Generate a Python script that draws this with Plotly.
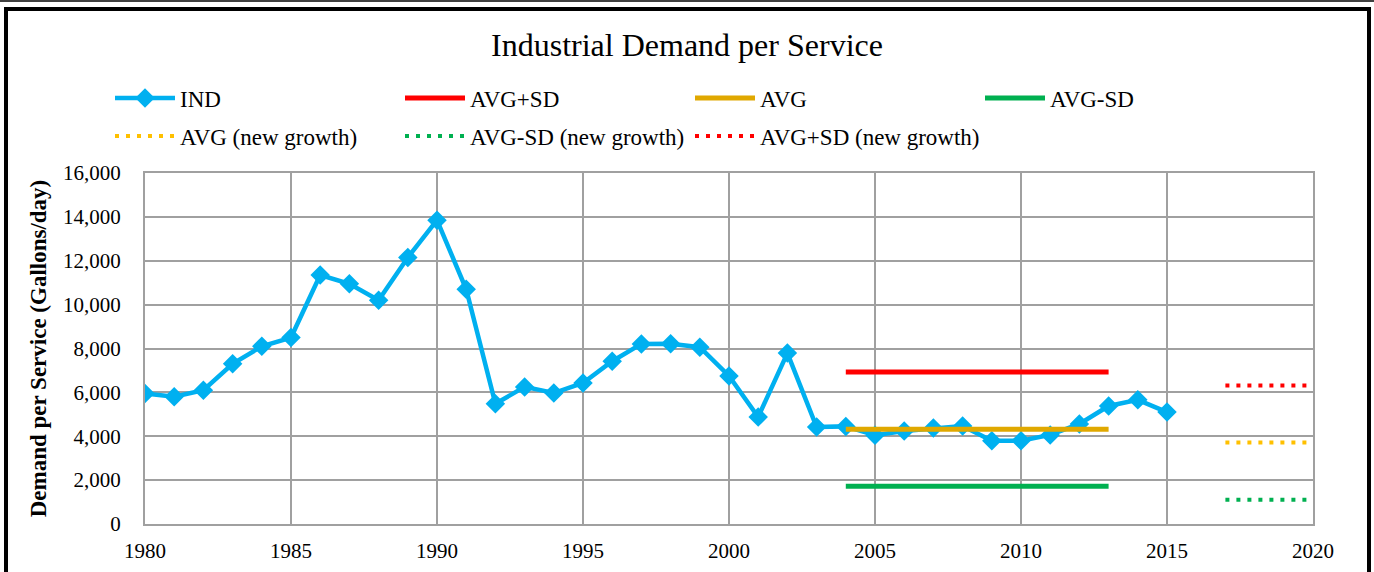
import plotly.graph_objects as go

# data
years = list(range(1980, 2016))
ind = [5950, 5800, 6100, 7300, 8100, 8500, 11350, 10950, 10200, 12150,
       13850, 10700, 5480, 6250, 5970, 6430, 7420, 8210, 8220, 8060,
       6750, 4880, 7790, 4420, 4450, 4050, 4240, 4380, 4470, 3790,
       3800, 4060, 4560, 5380, 5660, 5100]

avg_years = [2004, 2013]
avg = [4320, 4320]
avg_plus_sd = [6930, 6930]
avg_minus_sd = [1720, 1720]

new_years = [2017, 2020]
avg_new = [3710, 3710]
avg_minus_sd_new = [1100, 1100]
avg_plus_sd_new = [6310, 6310]

FONT = "Liberation Serif, Times New Roman, serif"
W, H = 1374, 572
L, R, T, B = 145, 61, 173, 48
PW, PH = W - L - R, H - T - B

fig = go.Figure()

fig.add_trace(go.Scatter(
    x=years, y=ind, name="IND", mode="lines+markers",
    line=dict(color="#00B0F0", width=4.5),
    marker=dict(symbol="diamond", size=15, color="#00B0F0"),
    legend="legend"))
fig.add_trace(go.Scatter(
    x=avg_years, y=avg_plus_sd, name="AVG+SD", mode="lines",
    line=dict(color="#FF0000", width=5), legend="legend"))
fig.add_trace(go.Scatter(
    x=avg_years, y=avg, name="AVG", mode="lines",
    line=dict(color="#E0A800", width=5), legend="legend"))
fig.add_trace(go.Scatter(
    x=avg_years, y=avg_minus_sd, name="AVG-SD", mode="lines",
    line=dict(color="#00B050", width=5), legend="legend"))

dots = "4px,7px"
fig.add_trace(go.Scatter(
    x=new_years, y=avg_new, name="AVG (new growth)", mode="lines",
    line=dict(color="#FFC000", width=4, dash=dots), legend="legend2"))
fig.add_trace(go.Scatter(
    x=new_years, y=avg_minus_sd_new, name="AVG-SD (new growth)", mode="lines",
    line=dict(color="#00B050", width=4, dash=dots), legend="legend2"))
fig.add_trace(go.Scatter(
    x=new_years, y=avg_plus_sd_new, name="AVG+SD (new growth)", mode="lines",
    line=dict(color="#FF0000", width=4, dash=dots), legend="legend2"))

leg = dict(orientation="h", xref="container", yref="container",
           x=110 / W, xanchor="left", yanchor="middle",
           font=dict(family=FONT, size=23, color="black"),
           itemwidth=60, entrywidth=215, bgcolor="rgba(0,0,0,0)")

fig.update_layout(
    width=W, height=H,
    margin=dict(l=L, r=R, t=T, b=B, autoexpand=False),
    paper_bgcolor="white", plot_bgcolor="white",
    font=dict(family=FONT, color="black"),
    title=dict(text="Industrial Demand per Service", x=0.5, xanchor="center",
               y=1 - 45 / H, yanchor="middle",
               font=dict(family=FONT, size=32, color="black")),
    legend=dict(leg, y=1 - 98 / H),
    legend2=dict(leg, y=1 - 136 / H),
    xaxis=dict(range=[1980, 2020], dtick=5, tick0=1980,
               showgrid=True, gridcolor="#A0A0A0", gridwidth=2,
               showline=True, linecolor="#A0A0A0", linewidth=2, mirror=True,
               zeroline=False, ticks="", ticklabelstandoff=7,
               tickfont=dict(family=FONT, size=21, color="black")),
    yaxis=dict(range=[0, 16000], dtick=2000, tickformat=",d",
               showgrid=True, gridcolor="#A0A0A0", gridwidth=2,
               showline=True, linecolor="#A0A0A0", linewidth=2, mirror=True,
               zeroline=False, ticks="", ticklabelstandoff=18,
               tickfont=dict(family=FONT, size=21, color="black"),
               title=dict(text="<b>Demand per Service (Gallons/day)</b>",
                          font=dict(family=FONT, size=23, color="black"),
                          standoff=10)),
)

# outer frame of the chart box (bottom edge is cropped in the reference)
def px_x(p):
    return (p - L) / PW

def px_y(p):
    return (H - B - p) / PH

fig.add_shape(type="rect", xref="paper", yref="paper",
              x0=px_x(6), x1=px_x(1369), y0=px_y(590), y1=px_y(9),
              line=dict(color="black", width=4), fillcolor="rgba(0,0,0,0)")
fig.add_shape(type="line", xref="paper", yref="paper",
              x0=px_x(0), x1=px_x(W), y0=px_y(1), y1=px_y(1),
              line=dict(color="black", width=1.5))

fig.write_html("out.html", config={"displayModeBar": False},
               post_script="document.body.style.margin='0';")
